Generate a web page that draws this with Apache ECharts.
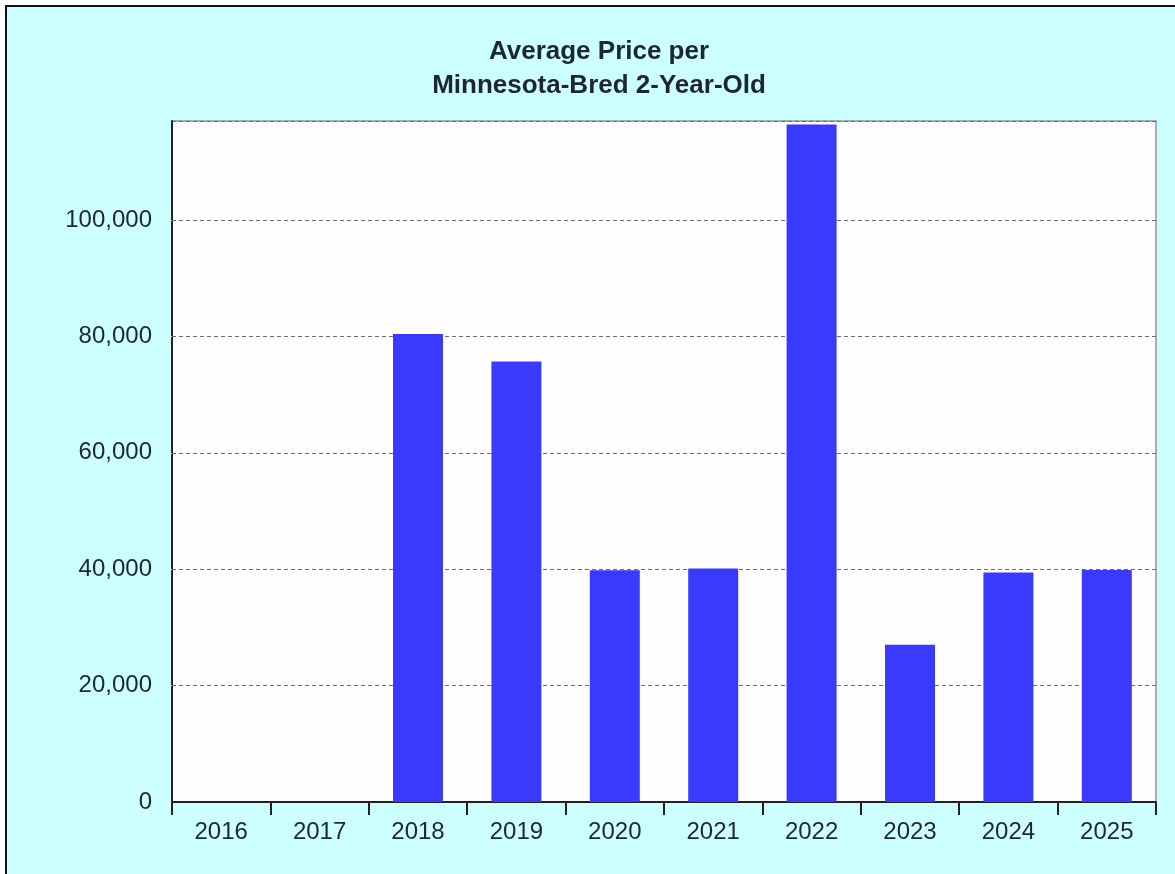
<!DOCTYPE html>
<html>
<head>
<meta charset="utf-8">
<title>Average Price per Minnesota-Bred 2-Year-Old</title>
<script src="https://cdn.jsdelivr.net/npm/echarts@6/dist/echarts.min.js"></script>
<style>
  html, body { margin: 0; padding: 0; background: #ffffff; overflow: hidden; }
  #frame {
    position: absolute; left: 5px; top: 5px; width: 1175px; height: 874px;
    border-left: 2px solid #111; border-top: 2px solid #111;
    background: #ccffff;
  }
  #chart { position: absolute; left: 0; top: 0; width: 1175px; height: 874px; }
</style>
</head>
<body>
<div id="frame"></div>
<div id="chart"></div>
<script>
// Sale years and the average price per 2-year-old in each year
const years = ['2016', '2017', '2018', '2019', '2020', '2021', '2022', '2023', '2024', '2025'];
const avgPrice = [0, 0, 80400, 75700, 39800, 40100, 116400, 27000, 39450, 39850];
const titleLines = ['Average Price per', 'Minnesota-Bred 2-Year-Old'];

const textColor = '#1f2633';
const fontFamily = 'Arial, "Liberation Sans", sans-serif';

const chart = echarts.init(document.getElementById('chart'), null, { renderer: 'canvas' });

chart.setOption({
  backgroundColor: 'transparent',
  animation: false,
  title: {
    text: titleLines.join('\n'),
    left: 594,
    top: 30,
    textAlign: 'center',
    textStyle: {
      fontFamily: fontFamily,
      fontSize: 26,
      fontWeight: 'bold',
      lineHeight: 34,
      color: textColor
    }
  },
  grid: {
    left: 172,
    right: 19,
    top: 121,
    bottom: 72,
    show: true,
    backgroundColor: '#fffdfe',
    borderColor: '#8a9898',
    borderWidth: 1.5
  },
  xAxis: {
    type: 'category',
    data: years,
    boundaryGap: true,
    axisLine: { show: true, lineStyle: { color: '#222', width: 2 } },
    axisTick: { show: true, length: 13, lineStyle: { color: '#222', width: 2 } },
    axisLabel: {
      margin: 18,
      fontFamily: fontFamily,
      fontSize: 24,
      color: textColor
    },
    splitLine: { show: false }
  },
  yAxis: {
    type: 'value',
    min: 0,
    max: 117000,
    interval: 20000,
    axisLine: { show: true, lineStyle: { color: '#222', width: 2 } },
    axisTick: { show: true, length: 6, lineStyle: { color: '#eef6f6', width: 1 } },
    axisLabel: {
      margin: 20,
      fontFamily: fontFamily,
      fontSize: 24,
      color: textColor,
      showMaxLabel: false,
      formatter: v => v.toLocaleString('en-US')
    },
    splitLine: {
      show: true,
      lineStyle: { color: '#6a6a6a', width: 1, type: [4, 3] }
    }
  },
  series: [{
    type: 'bar',
    data: avgPrice,
    barWidth: 50,
    itemStyle: { color: '#3a3aff' },
    z: 1
  }]
});
</script>
</body>
</html>
